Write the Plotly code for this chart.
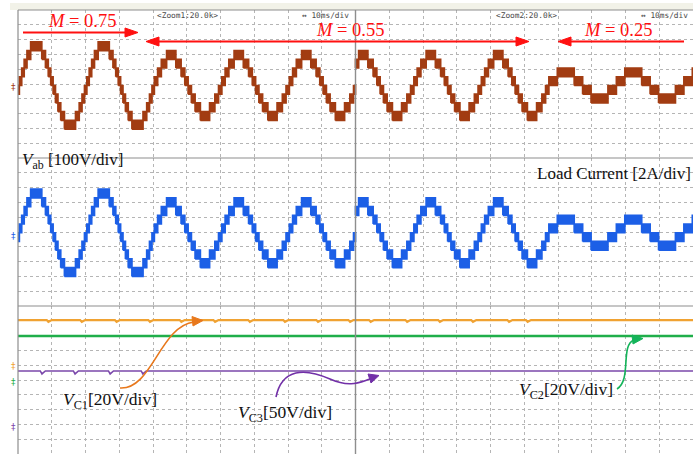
import plotly.graph_objects as go
from plotly.subplots import make_subplots

# ---------------- values read from the screen capture ----------------
# time axis: 20 divisions at 10 ms/div, shown as two zoom windows (Zoom1 | Zoom2)
window_edges = [0.0, 10.0, 20.0]
period_div = 2.0                     # 50 Hz fundamental = 2 div
first_zero = [0.04, 9.73]            # first rising zero crossing in each window (div)
m_change_at = [4.04, 15.73]          # where the modulation index changes (div)
m_first = ["0.75", "0.55"]
m_second = ["0.55", "0.25"]
# level switching angles of the staircase (quarter wave, degrees)
angles_m075 = [12.6, 25.8, 40.7, 60.4]
angles_m055 = [17.6, 37.3, 65.4]
angles_m025 = [45.0]
vab_step = 0.59          # one level of Vab, in divisions
vab_offset = -0.10
io_step = 0.59           # one level of load current, in divisions
io_offset = -0.05

# capacitor voltages (panel 3, divisions)
vc1_level = 4.05
vc1_dips = [0.90, 1.89, 2.92, 3.91, 4.84, 5.84, 6.87, 7.91, 8.89, 9.84,
            10.45, 11.53, 12.50, 13.48, 14.55, 15.10]
vc1_dip_depth = 0.12
vc2_level = 2.97
vc3_level = 0.61
vc3_dips = [0.71, 1.69, 2.73, 3.70]
vc3_dip_depth = 0.20

angle_table = {"0.75": angles_m075, "0.55": angles_m055, "0.25": angles_m025}

BROWN = "#a23c12"
BLUE = "#1c5fe6"
ORANGE = "#f0a232"
GREEN = "#1fae4a"
PURPLE = "#7b48ab"
RED = "#ff1010"
GRID = "#b5b5b5"
FRAME = "#8e8e8e"


def staircase_bands(step, offset):
    xs, ys = [], []
    for w in range(2):
        w0, w1 = window_edges[w], window_edges[w + 1]
        tz = first_zero[w] - period_div
        while tz < w1:
            key = m_first[w] if tz < m_change_at[w] - 1e-6 else m_second[w]
            th = angle_table[key]
            n = len(th)
            bps = [0.0] + th + [180.0 - a for a in reversed(th)] + [180.0]
            lv = list(range(n + 1)) + list(range(n - 1, -1, -1))
            for half, sign in ((0, 1), (1, -1)):
                for i in range(len(lv)):
                    a = tz + (half * 180 + bps[i]) / 360.0 * period_div
                    b = tz + (half * 180 + bps[i + 1]) / 360.0 * period_div
                    a, b = max(a, w0), min(b, w1)
                    if b <= a:
                        continue
                    lo, hi = sorted((sign * lv[i] * step, sign * (lv[i] + 1) * step))
                    lo += offset
                    hi += offset
                    xs += [a, b, b, a, a, None]
                    ys += [lo, lo, hi, hi, lo, None]
            tz += period_div
    return xs, ys


def ripple_line(level, dips, depth):
    xs, ys = [0.0], [level]
    for d in dips:
        xs += [d - 0.05, d, d + 0.10]
        ys += [level, level - depth, level]
    xs.append(20.0)
    ys.append(level)
    return xs, ys


fig = make_subplots(rows=3, cols=1, shared_xaxes=True, vertical_spacing=0)

vx, vy = staircase_bands(vab_step, vab_offset)
fig.add_trace(go.Scatter(x=vx, y=vy, mode="lines", fill="toself", fillcolor=BROWN,
                         line=dict(color=BROWN, width=1.7), hoverinfo="skip",
                         showlegend=False), row=1, col=1)
ix, iy = staircase_bands(io_step, io_offset)
fig.add_trace(go.Scatter(x=ix, y=iy, mode="lines", fill="toself", fillcolor=BLUE,
                         line=dict(color=BLUE, width=1.7), hoverinfo="skip",
                         showlegend=False), row=2, col=1)

c1x, c1y = ripple_line(vc1_level, vc1_dips, vc1_dip_depth)
fig.add_trace(go.Scatter(x=c1x, y=c1y, mode="lines", line=dict(color=ORANGE, width=2.2),
                         hoverinfo="skip", showlegend=False), row=3, col=1)
fig.add_trace(go.Scatter(x=[0.0, 20.0], y=[vc2_level, vc2_level], mode="lines",
                         line=dict(color=GREEN, width=2.6), hoverinfo="skip",
                         showlegend=False), row=3, col=1)
c3x, c3y = ripple_line(vc3_level, vc3_dips, vc3_dip_depth)
fig.add_trace(go.Scatter(x=c3x, y=c3y, mode="lines", line=dict(color=PURPLE, width=1.6),
                         hoverinfo="skip", showlegend=False), row=3, col=1)

fig.update_xaxes(range=[0, 20], tick0=0, dtick=1, showgrid=True, griddash="dot",
                 gridcolor=GRID, gridwidth=1, showticklabels=False, ticks="",
                 zeroline=False, showline=False, fixedrange=True)
fig.update_yaxes(range=[-5, 5], tick0=0, dtick=1, showgrid=True, griddash="dot",
                 gridcolor=GRID, gridwidth=1, showticklabels=False, ticks="",
                 zeroline=False, showline=False, fixedrange=True)

# ---------------- decoration in pixel positions ----------------
PL, PT, PW, PH = 18, 10, 675, 444


def fx(px):
    return (px - PL) / PW


def fy(py):
    return 1 - (py - PT) / PH


def path(points, close=False):
    s = "M " + " L ".join(f"{fx(a):.5f},{fy(b):.5f}" for a, b in points)
    return s + (" Z" if close else "")


def bez(p0, c1, c2, p1):
    return (f"M {fx(p0[0]):.5f},{fy(p0[1]):.5f} C {fx(c1[0]):.5f},{fy(c1[1]):.5f} "
            f"{fx(c2[0]):.5f},{fy(c2[1]):.5f} {fx(p1[0]):.5f},{fy(p1[1]):.5f}")


shapes = []
# top title strip
shapes.append(dict(type="rect", xref="paper", yref="paper", x0=fx(10), x1=1.0,
                   y0=fy(10), y1=fy(3), fillcolor="#f2f2e8", line=dict(width=0),
                   layer="below"))
# frame lines
for yy in (1.0, 2 / 3, 1 / 3):
    shapes.append(dict(type="line", xref="paper", yref="paper", x0=0, x1=1, y0=yy, y1=yy,
                       line=dict(color=FRAME, width=1.2)))
shapes.append(dict(type="line", xref="paper", yref="paper", x0=0, x1=0, y0=0, y1=1,
                   line=dict(color=FRAME, width=1.2)))
shapes.append(dict(type="line", xref="paper", yref="paper", x0=0.5, x1=0.5, y0=0, y1=1,
                   line=dict(color=FRAME, width=1.4)))

# red M-range arrows
def red_line(x0, x1, y):
    shapes.append(dict(type="path", xref="paper", yref="paper",
                       path=path([(x0, y), (x1, y)]), line=dict(color=RED, width=2)))


def red_head(tip, y, direction):
    back = tip - 13 * direction
    shapes.append(dict(type="path", xref="paper", yref="paper",
                       path=path([(tip, y), (back, y - 4.5), (back, y + 4.5)], close=True),
                       fillcolor=RED, line=dict(color=RED, width=1)))


red_line(23, 128, 32.5)
red_head(138, 32.5, 1)
red_line(156, 518, 41.5)
red_head(146, 41.5, -1)
red_head(529, 41.5, 1)
red_line(568, 684, 41.5)
red_head(558, 41.5, -1)

# curved pointer arrows for the capacitor labels
def curve(d, color):
    shapes.append(dict(type="path", xref="paper", yref="paper", path=d,
                       line=dict(color=color, width=1.6)))


def tri(pts, color):
    shapes.append(dict(type="path", xref="paper", yref="paper", path=path(pts, close=True),
                       fillcolor=color, line=dict(color=color, width=1)))


curve(bez((120, 388), (152, 390), (160, 326), (194, 322)), "#e8781c")
tri([(203, 320.5), (192, 316.5), (193, 326)], "#e8781c")

curve(bez((276, 397), (282, 368), (305, 368), (330, 379)) +
      f" C {fx(350):.5f},{fy(388):.5f} {fx(360):.5f},{fy(382):.5f} {fx(370):.5f},{fy(379):.5f}",
      "#7230a8")
tri([(379, 375.5), (368, 374), (371, 383)], "#7230a8")

curve(bez((617, 389), (632, 380), (620, 345), (634, 340)), "#14b45a")
tri([(643, 338.5), (632, 335), (633, 344)], "#14b45a")

fig.update_layout(shapes=shapes)

SERIF = "Liberation Serif"
ann = []


def text(px, py, s, size, color="#111111", xanchor="left", family=SERIF):
    ann.append(dict(x=fx(px), y=fy(py), xref="paper", yref="paper", text=s,
                    showarrow=False, xanchor=xanchor, yanchor="middle",
                    font=dict(family=family, size=size, color=color)))


text(82, 21, "<i>M</i> = 0.75", 18.5, RED, "center")
text(350, 30, "<i>M</i> = 0.55", 18.5, RED, "center")
text(618, 30, "<i>M</i> = 0.25", 18.5, RED, "center")

text(20, 161, "<i>V</i><sub>ab</sub> [100V/div]", 17)
text(535, 173, "Load Current [2A/div]", 17)
text(61, 400, "<i>V</i><sub>C1</sub>[20V/div]", 17.5)
text(236, 413, "<i>V</i><sub>C3</sub>[50V/div]", 17.5)
text(517, 390, "<i>V</i><sub>C2</sub>[20V/div]", 17.5)

MONO = "DejaVu Sans Mono"
text(187, 16, "&lt;Zoom1:20.0k&gt;", 7.8, "#4a4a4a", "center", MONO)
text(351, 16, "↔ 10ms/div", 7.8, "#4a4a4a", "right", MONO)
text(526, 16, "&lt;Zoom2:20.0k&gt;", 7.8, "#4a4a4a", "center", MONO)
text(690, 16, "↔ 10ms/div", 7.8, "#4a4a4a", "right", MONO)

# channel ground markers on the left edge
for py, col in ((87, BROWN), (236, BLUE), (366, ORANGE), (382, GREEN), (427, PURPLE)):
    text(13, py, "‡", 9, col, "center", "DejaVu Sans")

fig.update_layout(annotations=ann)

fig.update_layout(width=693, height=454, margin=dict(l=18, r=0, t=10, b=0),
                  paper_bgcolor="white", plot_bgcolor="white", showlegend=False)

fig.write_html("out.html", config={"displayModeBar": False},
               post_script="document.body.style.margin='0';document.body.style.overflow='hidden';")
